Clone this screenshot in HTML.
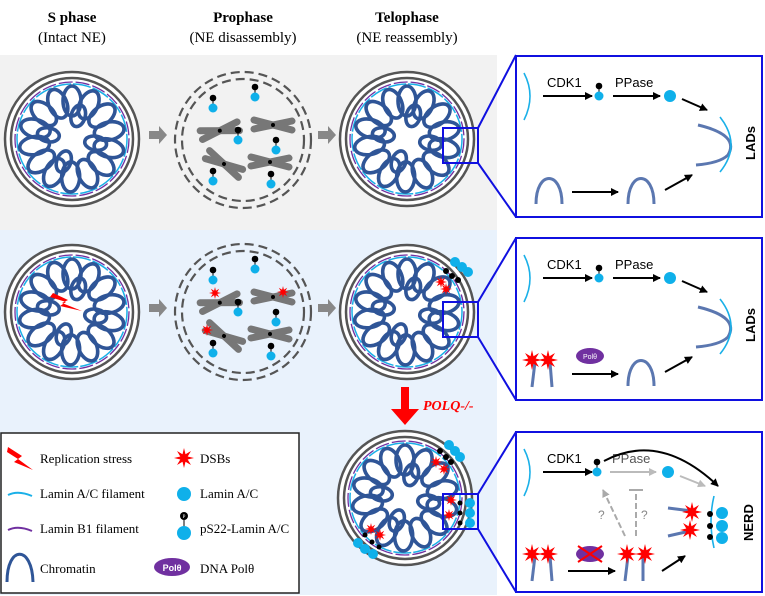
<!DOCTYPE html>
<html><head><meta charset="utf-8"><style>
body{margin:0;background:#fff}
svg{display:block}
text{font-family:"Liberation Serif",serif}
.s{font-family:"Liberation Sans",sans-serif}
</style></head><body>
<svg width="765" height="596" viewBox="0 0 765 596" xmlns="http://www.w3.org/2000/svg">
<defs>
<polygon id="star" fill="#f00" points="10,0 3.7,1.5 7,7 1.5,3.7 0,10 -1.5,3.7 -7,7 -3.7,1.5 -10,0 -3.7,-1.5 -7,-7 -1.5,-3.7 0,-10 1.5,-3.7 7,-7 3.7,-1.5"/>
<g id="plam"><line x1="0" y1="0" x2="0" y2="-9" stroke="#000" stroke-width="1"/><circle cx="0" cy="-10" r="3.3" fill="#000"/><circle cx="0" cy="0" r="4.5" fill="#0fb0ea"/></g>
<g id="chromo" stroke="#777" stroke-width="7" stroke-linecap="round"><line x1="-19" y1="-5" x2="19" y2="5"/><line x1="-19" y1="4" x2="19" y2="-4"/><circle cx="0" cy="0" r="2" fill="#000" stroke="none"/></g>
<g id="chrom" fill="none" stroke="#2f5597" stroke-width="3.6">
<ellipse cx="0" cy="-38" rx="9" ry="15"/><ellipse cx="0" cy="-38" rx="9" ry="15" transform="rotate(26)"/>
<ellipse cx="0" cy="-38" rx="9" ry="15" transform="rotate(52)"/><ellipse cx="0" cy="-38" rx="9" ry="15" transform="rotate(78)"/>
<ellipse cx="0" cy="-38" rx="9" ry="15" transform="rotate(104)"/><ellipse cx="0" cy="-38" rx="9" ry="15" transform="rotate(130)"/>
<ellipse cx="0" cy="-38" rx="9" ry="15" transform="rotate(156)"/><ellipse cx="0" cy="-38" rx="9" ry="15" transform="rotate(182)"/>
<ellipse cx="0" cy="-38" rx="9" ry="15" transform="rotate(208)"/><ellipse cx="0" cy="-38" rx="9" ry="15" transform="rotate(234)"/>
<ellipse cx="0" cy="-38" rx="9" ry="15" transform="rotate(260)"/><ellipse cx="0" cy="-38" rx="9" ry="15" transform="rotate(286)"/>
<ellipse cx="0" cy="-38" rx="9" ry="15" transform="rotate(312)"/><ellipse cx="0" cy="-38" rx="9" ry="15" transform="rotate(338)"/>
<ellipse cx="0" cy="-24" rx="7" ry="11" transform="rotate(15)"/><ellipse cx="0" cy="-24" rx="7" ry="11" transform="rotate(100)"/>
<ellipse cx="0" cy="-24" rx="7" ry="11" transform="rotate(200)"/><ellipse cx="0" cy="-24" rx="7" ry="11" transform="rotate(280)"/>
</g>
<g id="nuc">
<circle r="67" fill="#fff" stroke="#555" stroke-width="2.5"/>
<circle r="61" fill="#fff" stroke="#555" stroke-width="2.5"/>
<circle r="57" fill="none" stroke="#7030a0" stroke-width="1.3" stroke-dasharray="14 3"/>
<circle r="55" fill="none" stroke="#1ab0e8" stroke-width="1.5" stroke-dasharray="18 2"/>
<use href="#chrom"/>
</g>
<g id="pro">
<circle r="68" fill="none" stroke="#555" stroke-width="2.2" stroke-dasharray="9 5"/>
<circle r="61" fill="none" stroke="#555" stroke-width="2.2" stroke-dasharray="9 5"/>
<use href="#chromo" x="-20" y="-15" transform="rotate(-15)"/>
<use href="#chromo" x="30" y="-15"/>
<use href="#chromo" x="-19" y="24" transform="rotate(28 -19 24)"/>
<use href="#chromo" x="27" y="22"/>
<use href="#plam" x="-30" y="-32"/><use href="#plam" x="12" y="-43"/><use href="#plam" x="-5" y="0"/>
<use href="#plam" x="33" y="10"/><use href="#plam" x="-30" y="41"/><use href="#plam" x="28" y="44"/>
</g>
<marker id="ah" markerWidth="8" markerHeight="8" refX="7" refY="4" orient="auto" markerUnits="userSpaceOnUse"><path d="M0,0 L8,4 L0,8z" fill="#000"/></marker>
<marker id="ahg" markerWidth="8" markerHeight="8" refX="7" refY="4" orient="auto" markerUnits="userSpaceOnUse"><path d="M0,0 L8,4 L0,8z" fill="#bbb"/></marker>
<marker id="ahd" markerWidth="8" markerHeight="8" refX="7" refY="4" orient="auto" markerUnits="userSpaceOnUse"><path d="M0,0 L8,4 L0,8z" fill="#aaa"/></marker>
<g id="top">
<path d="M14,23 Q26,46 14,70" fill="none" stroke="#1ab0e8" stroke-width="1.6"/>
<text class="s" x="37" y="37" font-size="13">CDK1</text>
<line x1="33" y1="46" x2="82" y2="46" stroke="#000" stroke-width="2" marker-end="url(#ah)"/>
</g>
<g id="arch" fill="none" stroke="#5b77b0" stroke-width="3"><path d="M0,30 C0,-4 26,-4 26,30"/></g>
</defs>

<rect x="0" y="55" width="497" height="175" fill="#f2f2f2"/>
<rect x="0" y="230" width="497" height="365" fill="#e9f2fc"/>

<g font-size="15" text-anchor="middle">
<text x="72" y="22" font-weight="bold">S phase</text><text x="72" y="42">(Intact NE)</text>
<text x="243" y="22" font-weight="bold">Prophase</text><text x="243" y="42">(NE disassembly)</text>
<text x="407" y="22" font-weight="bold">Telophase</text><text x="407" y="42">(NE reassembly)</text>
</g>

<use href="#nuc" x="72" y="139"/><use href="#pro" x="243" y="140"/><use href="#nuc" x="407" y="139"/>
<use href="#nuc" x="72" y="312"/><use href="#pro" x="243" y="312"/><use href="#nuc" x="407" y="312"/>
<use href="#nuc" x="405" y="498"/>

<g fill="#888">
<path d="M149,131 h10 v-5 l8,9 -8,9 v-5 h-10z"/><path d="M318,131 h10 v-5 l8,9 -8,9 v-5 h-10z"/>
<path d="M149,304 h10 v-5 l8,9 -8,9 v-5 h-10z"/><path d="M318,304 h10 v-5 l8,9 -8,9 v-5 h-10z"/>
</g>
<polygon points="53,293 68,300 62,303 82,311 60,306 66,302 50,297" fill="#f00"/>
<use href="#star" x="215" y="293" transform="scale(0.6)" transform-origin="215 293"/>
<use href="#star" x="283" y="292" transform="scale(0.6)" transform-origin="283 292"/>
<use href="#star" x="207" y="330" transform="scale(0.6)" transform-origin="207 330"/>

<circle cx="455" cy="262" r="5" fill="#0fb0ea"/><circle cx="462" cy="267" r="5" fill="#0fb0ea"/><circle cx="468" cy="272" r="5" fill="#0fb0ea"/>
<circle cx="446" cy="271" r="3" fill="#000"/><circle cx="452" cy="276" r="3" fill="#000"/><circle cx="458" cy="280" r="3" fill="#000"/>
<use href="#star" x="441" y="282" transform="scale(0.6)" transform-origin="441 282"/>
<use href="#star" x="446" y="289" transform="scale(0.6)" transform-origin="446 289"/>

<circle cx="449" cy="445" r="5" fill="#0fb0ea"/><circle cx="455" cy="451" r="5" fill="#0fb0ea"/><circle cx="460" cy="457" r="5" fill="#0fb0ea"/>
<circle cx="440" cy="451" r="3" fill="#000"/><circle cx="446" cy="457" r="3" fill="#000"/><circle cx="451" cy="462" r="3" fill="#000"/>
<use href="#star" x="436" y="462" transform="scale(0.6)" transform-origin="436 462"/><use href="#star" x="444" y="469" transform="scale(0.6)" transform-origin="444 469"/>
<circle cx="470" cy="503" r="5" fill="#0fb0ea"/><circle cx="470" cy="513" r="5" fill="#0fb0ea"/><circle cx="470" cy="523" r="5" fill="#0fb0ea"/>
<circle cx="460" cy="503" r="2.5" fill="#000"/><circle cx="460" cy="513" r="2.5" fill="#000"/><circle cx="460" cy="523" r="2.5" fill="#000"/>
<use href="#star" x="451" y="500" transform="scale(0.6)" transform-origin="451 500"/><use href="#star" x="449" y="515" transform="scale(0.6)" transform-origin="449 515"/>
<circle cx="358" cy="543" r="5" fill="#0fb0ea"/><circle cx="365" cy="549" r="5" fill="#0fb0ea"/><circle cx="373" cy="554" r="5" fill="#0fb0ea"/>
<circle cx="365" cy="535" r="2.5" fill="#000"/><circle cx="372" cy="542" r="2.5" fill="#000"/><circle cx="379" cy="547" r="2.5" fill="#000"/>
<use href="#star" x="371" y="529" transform="scale(0.6)" transform-origin="371 529"/><use href="#star" x="380" y="535" transform="scale(0.6)" transform-origin="380 535"/>

<path d="M401,387 h8 v22 h10 l-14,16 -14,-16 h10z" fill="#f00"/>
<text x="423" y="410" font-size="14" font-weight="bold" font-style="italic" fill="#f00">POLQ-/-</text>

<g fill="none" stroke="#1010e0" stroke-width="2">
<rect x="443" y="128" width="35" height="35"/><line x1="478" y1="128" x2="516" y2="55"/><line x1="478" y1="163" x2="516" y2="217"/>
<rect x="443" y="302" width="35" height="35"/><line x1="478" y1="302" x2="516" y2="238"/><line x1="478" y1="337" x2="516" y2="400"/>
<rect x="443" y="494" width="35" height="35"/><line x1="478" y1="494" x2="516" y2="432"/><line x1="478" y1="529" x2="516" y2="592"/>
<rect x="516" y="56" width="246" height="161"/><rect x="516" y="238" width="246" height="162"/><rect x="516" y="432" width="246" height="160"/>
</g>

<g transform="translate(510,50)">
<use href="#top"/>
<use href="#plam" x="89" y="46"/>
<text class="s" x="105" y="37" font-size="13">PPase</text>
<line x1="103" y1="46" x2="150" y2="46" stroke="#000" stroke-width="2" marker-end="url(#ah)"/>
<circle cx="160" cy="46" r="6" fill="#0fb0ea"/>
<line x1="172" y1="49" x2="197" y2="60" stroke="#000" stroke-width="2" marker-end="url(#ah)"/>
<path d="M188,75 Q230,85 218,105 Q210,113 186,115" fill="none" stroke="#5b77b0" stroke-width="3"/>
<path d="M210,67 Q232,95 210,122" fill="none" stroke="#1ab0e8" stroke-width="1.6"/>
<text class="s" transform="translate(245,110) rotate(-90)" font-size="13" font-weight="bold">LADs</text>
<use href="#arch" x="26" y="124"/>
<line x1="62" y1="142" x2="108" y2="142" stroke="#000" stroke-width="2" marker-end="url(#ah)"/>
<use href="#arch" x="118" y="124"/>
<line x1="155" y1="140" x2="182" y2="125" stroke="#000" stroke-width="2" marker-end="url(#ah)"/>
</g>
<g transform="translate(510,232)">
<use href="#top"/>
<use href="#plam" x="89" y="46"/>
<text class="s" x="105" y="37" font-size="13">PPase</text>
<line x1="103" y1="46" x2="150" y2="46" stroke="#000" stroke-width="2" marker-end="url(#ah)"/>
<circle cx="160" cy="46" r="6" fill="#0fb0ea"/>
<line x1="172" y1="49" x2="197" y2="60" stroke="#000" stroke-width="2" marker-end="url(#ah)"/>
<path d="M188,75 Q230,85 218,105 Q210,113 186,115" fill="none" stroke="#5b77b0" stroke-width="3"/>
<path d="M210,67 Q232,95 210,122" fill="none" stroke="#1ab0e8" stroke-width="1.6"/>
<text class="s" transform="translate(245,110) rotate(-90)" font-size="13" font-weight="bold">LADs</text>
<g stroke="#5b77b0" stroke-width="3"><line x1="22" y1="155" x2="25" y2="130"/><line x1="42" y1="155" x2="40" y2="130"/></g>
<use href="#star" x="22" y="128"/><use href="#star" x="38" y="128"/>
<ellipse cx="80" cy="124" rx="14" ry="8" fill="#7030a0"/><text class="s" x="80" y="127" font-size="7" fill="#fff" text-anchor="middle">Polθ</text>
<line x1="62" y1="142" x2="108" y2="142" stroke="#000" stroke-width="2" marker-end="url(#ah)"/>
<use href="#arch" x="118" y="124"/>
<line x1="155" y1="140" x2="182" y2="125" stroke="#000" stroke-width="2" marker-end="url(#ah)"/>
</g>
<g transform="translate(510,426)">
<use href="#top"/>
<use href="#plam" x="87" y="46"/>
<text class="s" x="102" y="37" font-size="13" fill="#555">PPase</text>
<line x1="100" y1="46" x2="146" y2="46" stroke="#bbb" stroke-width="2" marker-end="url(#ahg)"/>
<circle cx="158" cy="46" r="6" fill="#0fb0ea"/>
<line x1="170" y1="50" x2="195" y2="60" stroke="#bbb" stroke-width="2" marker-end="url(#ahg)"/>
<path d="M94,35 Q150,5 208,60" fill="none" stroke="#000" stroke-width="2" marker-end="url(#ah)"/>
<line x1="115" y1="110" x2="93" y2="64" stroke="#aaa" stroke-width="2" stroke-dasharray="6 3" marker-end="url(#ahd)"/>
<text class="s" x="88" y="93" font-size="12" fill="#888">?</text>
<line x1="126" y1="110" x2="126" y2="64" stroke="#aaa" stroke-width="2" stroke-dasharray="6 3"/>
<line x1="119" y1="64" x2="133" y2="64" stroke="#aaa" stroke-width="2"/>
<text class="s" x="131" y="93" font-size="12" fill="#888">?</text>
<g stroke="#5b77b0" stroke-width="3"><line x1="22" y1="155" x2="25" y2="130"/><line x1="42" y1="155" x2="40" y2="130"/><line x1="115" y1="155" x2="118" y2="130"/><line x1="133" y1="155" x2="133" y2="130"/>
<line x1="158" y1="82" x2="182" y2="85"/><line x1="158" y1="110" x2="180" y2="105"/></g>
<use href="#star" x="22" y="128"/><use href="#star" x="38" y="128"/><use href="#star" x="117" y="128"/><use href="#star" x="135" y="128"/>
<use href="#star" x="182" y="86"/><use href="#star" x="180" y="104"/>
<ellipse cx="80" cy="128" rx="14" ry="8" fill="#7030a0"/>
<path d="M68,120 L92,136 M92,120 L68,136" stroke="#f00" stroke-width="2"/>
<line x1="58" y1="145" x2="105" y2="145" stroke="#000" stroke-width="2" marker-end="url(#ah)"/>
<line x1="152" y1="145" x2="175" y2="130" stroke="#000" stroke-width="2" marker-end="url(#ah)"/>
<path d="M204,70 Q198,95 204,122" fill="none" stroke="#1ab0e8" stroke-width="1.6"/>
<circle cx="200" cy="88" r="3" fill="#000"/><circle cx="200" cy="100" r="3" fill="#000"/><circle cx="200" cy="111" r="3" fill="#000"/>
<circle cx="212" cy="87" r="6" fill="#0fb0ea"/><circle cx="212" cy="100" r="6" fill="#0fb0ea"/><circle cx="212" cy="112" r="6" fill="#0fb0ea"/>
<text class="s" transform="translate(243,115) rotate(-90)" font-size="13" font-weight="bold">NERD</text>
</g>

<rect x="1" y="433" width="298" height="160" fill="#fff" stroke="#222" stroke-width="1.5"/>
<g font-size="13">
<polygon points="8,447 22,456 18,459 33,470 14,462 18,459 7,452" fill="#f00"/>
<text x="40" y="463">Replication stress</text>
<path d="M8,495 Q18,490 32,496" fill="none" stroke="#1ab0e8" stroke-width="2"/>
<text x="40" y="498">Lamin A/C filament</text>
<path d="M8,530 Q18,525 32,531" fill="none" stroke="#7030a0" stroke-width="2"/>
<text x="40" y="533">Lamin B1 filament</text>
<path d="M7,582 C7,545 32,545 33,582" fill="none" stroke="#2f5597" stroke-width="3"/>
<text x="40" y="573">Chromatin</text>
<use href="#star" x="184" y="458"/>
<text x="200" y="463">DSBs</text>
<circle cx="184" cy="494" r="7" fill="#0fb0ea"/>
<text x="200" y="498">Lamin A/C</text>
<line x1="184" y1="516" x2="184" y2="528" stroke="#000"/><circle cx="184" cy="516" r="4" fill="#000"/>
<text x="184" y="518" font-size="5" fill="#fff" text-anchor="middle">P</text>
<circle cx="184" cy="533" r="7" fill="#0fb0ea"/>
<text x="200" y="533">pS22-Lamin A/C</text>
<ellipse cx="172" cy="567" rx="18" ry="9" fill="#7030a0"/>
<text class="s" x="172" y="571" font-size="9" fill="#fff" text-anchor="middle" font-weight="bold">Polθ</text>
<text x="200" y="573">DNA Polθ</text>
</g>
</svg>
</body></html>
